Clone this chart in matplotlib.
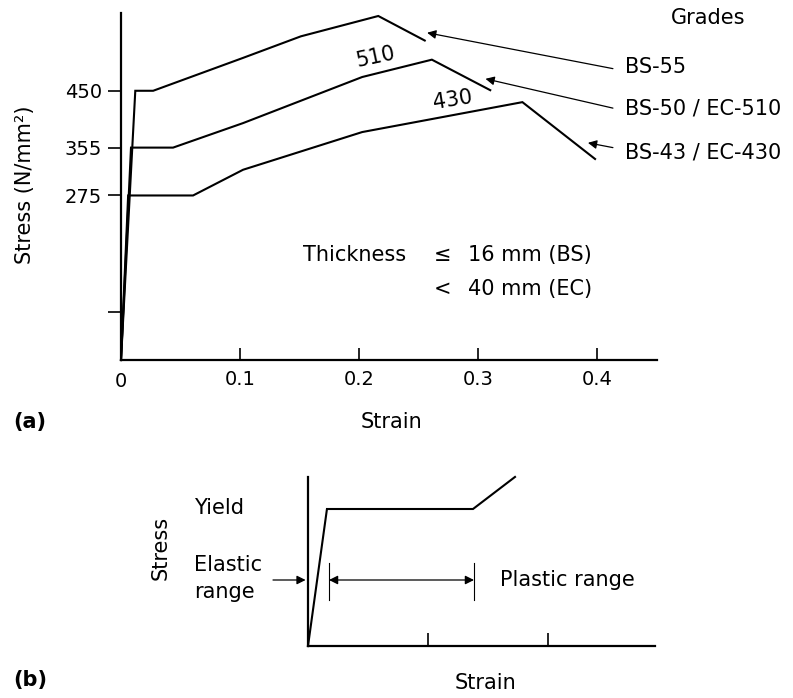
import matplotlib
matplotlib.use("Agg")
import matplotlib.pyplot as plt

plt.rcParams['font.family'] = ['DejaVu Sans']

# ---------------- data (panel a) ----------------
bs55_strain = [0, 0.012, 0.027, 0.1025, 0.151, 0.216, 0.255]
bs55_stress = [0, 450, 450, 505, 541, 575, 534]
bs50_strain = [0, 0.0084, 0.0437, 0.1025, 0.2025, 0.261, 0.310]
bs50_stress = [0, 355, 355, 396, 473, 502, 451]
bs43_strain = [0, 0.006, 0.0605, 0.1025, 0.2025, 0.337, 0.398]
bs43_stress = [0, 275, 275, 318, 381, 431, 336]

x_ticks_a = [0.1, 0.2, 0.3, 0.4]
x_ticklabels_a = ["0.1", "0.2", "0.3", "0.4"]
y_ticks_a = [80, 275, 355, 450]
y_ticklabels_a = ["", "275", "355", "450"]

grade_labels = ["BS-55", "BS-50 / EC-510", "BS-43 / EC-430"]
# arrow heads (strain, stress) and tails for grade labels
arrow_heads = [(0.257, 547), (0.306, 470), (0.392, 363)]
arrow_tails = [(0.413, 487), (0.413, 421), (0.413, 355)]

# ---------------- data (panel b) ----------------
b_strain = [0, 0.158, 1.375, 1.725]
b_stress = [0, 1.0, 1.0, 1.234]
b_ticks = [1.0, 2.0]

W, H = 793, 698
fig = plt.figure(figsize=(W / 100, H / 100), dpi=100)


def fx(x):
    return x / W


def fy(y):
    return 1 - y / H


FS = 15
TFS = 14

# ---------------- panel (a) ----------------
ax = fig.add_axes([fx(121), fy(360), 536 / W, 347 / H])
ax.set_xlim(0, 0.45)
ax.set_ylim(0, 580)
for s in ["top", "right"]:
    ax.spines[s].set_visible(False)
for s in ["left", "bottom"]:
    ax.spines[s].set_linewidth(1.6)

lw = 1.5
ax.plot(bs55_strain, bs55_stress, color="black", lw=lw, clip_on=False, solid_joinstyle="miter")
ax.plot(bs50_strain, bs50_stress, color="black", lw=lw, clip_on=False, solid_joinstyle="miter")
ax.plot(bs43_strain, bs43_stress, color="black", lw=lw, clip_on=False, solid_joinstyle="miter")

ax.set_xticks(x_ticks_a)
ax.set_xticklabels(x_ticklabels_a, fontsize=TFS)
ax.set_yticks(y_ticks_a)
ax.set_yticklabels(y_ticklabels_a, fontsize=TFS)
ax.tick_params(axis="x", direction="in", length=9, width=1.2, pad=7)
ax.tick_params(axis="y", direction="out", length=9.5, width=1.2, pad=4)

# the "0" origin label
ax.text(0, -0.035, "0", transform=ax.get_xaxis_transform(), ha="center", va="top", fontsize=TFS)

for lab, head, tail in zip(grade_labels, arrow_heads, arrow_tails):
    ax.annotate("", xy=head, xytext=tail,
                arrowprops=dict(arrowstyle="-|>", lw=0.9, color="black",
                                mutation_scale=13, shrinkA=0, shrinkB=0),
                annotation_clip=False)

ax.text(0.2134, 507, "510", rotation=12, ha="center", va="center", fontsize=FS)
ax.text(0.2782, 435, "430", rotation=9, ha="center", va="center", fontsize=FS)

fig.text(fx(708), fy(18), "Grades", ha="center", va="center", fontsize=FS)
for lab, yy in zip(grade_labels, [67, 108, 152]):
    fig.text(fx(625), fy(yy), lab, ha="left", va="center", fontsize=FS)

fig.text(fx(303), fy(255), "Thickness", ha="left", va="center", fontsize=FS)
fig.text(fx(443), fy(255), "≤", ha="center", va="center", fontsize=FS)
fig.text(fx(468), fy(255), "16 mm (BS)", ha="left", va="center", fontsize=FS)
fig.text(fx(443), fy(289), "<", ha="center", va="center", fontsize=FS)
fig.text(fx(468), fy(289), "40 mm (EC)", ha="left", va="center", fontsize=FS)

fig.text(fx(25), fy(185), "Stress (N/mm²)", rotation=90, ha="center", va="center", fontsize=FS)
fig.text(fx(392), fy(422), "Strain", ha="center", va="center", fontsize=FS)
fig.text(fx(13), fy(422), "(a)", ha="left", va="center", fontsize=FS, fontweight="bold")

# ---------------- panel (b) ----------------
bx = fig.add_axes([fx(308), fy(646), 347 / W, 169 / H])
bx.set_xlim(0, 347 / 120)
bx.set_ylim(0, 169 / 137)
for s in ["top", "right"]:
    bx.spines[s].set_visible(False)
for s in ["left", "bottom"]:
    bx.spines[s].set_linewidth(1.6)
bx.plot(b_strain, b_stress, color="black", lw=lw, clip_on=False, solid_joinstyle="miter")
bx.set_xticks(b_ticks)
bx.set_xticklabels([])
bx.set_yticks([])
bx.tick_params(axis="x", direction="in", length=9.5, width=1.2)

y_arrow = (646 - 580) / 137
x_pl0 = (329 - 308) / 120
x_pl1 = (474 - 308) / 120
bx.annotate("", xy=(-0.02, y_arrow), xytext=((273 - 308) / 120, y_arrow),
            arrowprops=dict(arrowstyle="-|>", lw=0.9, color="black",
                            mutation_scale=13, shrinkA=0, shrinkB=0),
            annotation_clip=False)
bx.annotate("", xy=(x_pl0, y_arrow), xytext=(x_pl1, y_arrow),
            arrowprops=dict(arrowstyle="<|-|>", lw=0.9, color="black",
                            mutation_scale=13, shrinkA=0, shrinkB=0),
            annotation_clip=False)
for xv in [x_pl0, x_pl1]:
    bx.plot([xv, xv], [(646 - 600) / 137, (646 - 563) / 137], color="black", lw=0.8, clip_on=False)

fig.text(fx(194), fy(508), "Yield", ha="left", va="center", fontsize=FS)
fig.text(fx(194), fy(565), "Elastic", ha="left", va="center", fontsize=FS)
fig.text(fx(194), fy(592), "range", ha="left", va="center", fontsize=FS)
fig.text(fx(500), fy(580), "Plastic range", ha="left", va="center", fontsize=FS)
fig.text(fx(161), fy(548), "Stress", rotation=90, ha="center", va="center", fontsize=FS)
fig.text(fx(485), fy(683), "Strain", ha="center", va="center", fontsize=FS)
fig.text(fx(13), fy(680), "(b)", ha="left", va="center", fontsize=FS, fontweight="bold")

fig.savefig("out.png", dpi=100)
